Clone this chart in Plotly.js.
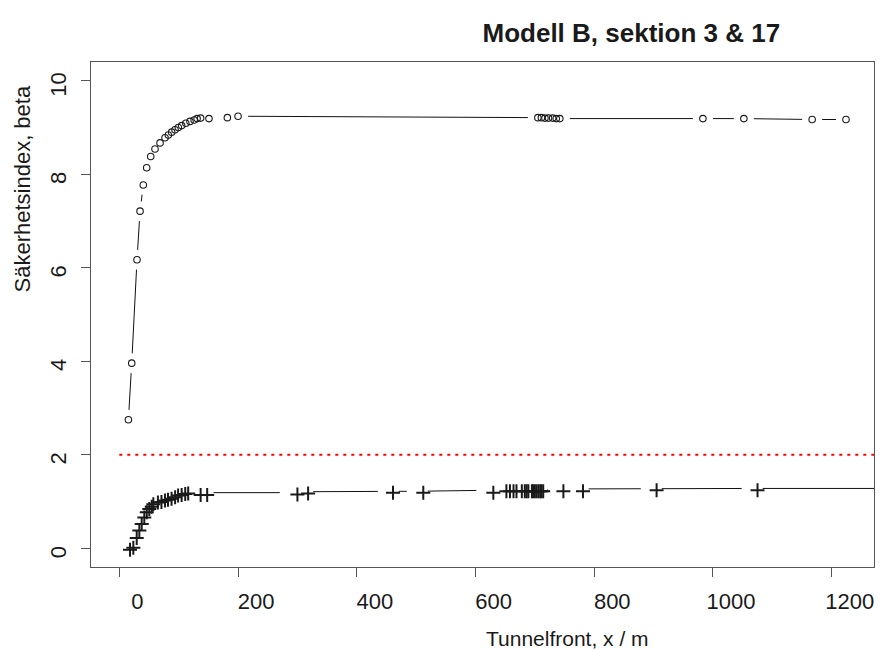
<!DOCTYPE html>
<html>
<head>
<meta charset="utf-8">
<script src="https://cdn.plot.ly/plotly-3.0.1.min.js"></script>
<style>html,body{margin:0;padding:0;background:#fff}#chart{width:887px;height:650px}</style>
</head>
<body>
<div id="chart"></div>
<script>
// Series "o" (circles)
var circX = [15.3, 20.9, 29.8, 34.9, 40.4, 46.1, 52.9, 60.1, 68.6, 77.0, 82.6, 88.2, 93.8, 99.4, 105, 112, 119, 126, 131, 137, 151, 182, 200, 705, 711, 717, 723, 730, 736, 742, 983, 1052, 1167, 1224];
var circY = [2.75, 3.96, 6.17, 7.21, 7.77, 8.14, 8.38, 8.54, 8.67, 8.78, 8.84, 8.90, 8.95, 9.00, 9.04, 9.09, 9.13, 9.16, 9.19, 9.20, 9.19, 9.21, 9.24, 9.21, 9.21, 9.20, 9.20, 9.20, 9.19, 9.19, 9.19, 9.19, 9.17, 9.17];

// Series "+" (markers)
var plusX = [18, 23.6, 29.3, 33.7, 37.7, 42.1, 46.2, 50.5, 54.6, 57.3, 65, 71, 77, 82, 88, 94, 99, 105, 111, 116, 137, 148, 300, 318, 461, 512, 630, 652, 658, 664, 669, 678, 683, 686, 689, 695, 697, 700, 703, 706, 709, 711, 714, 748, 781, 905, 1075];
var plusY = [-0.03, 0.01, 0.22, 0.38, 0.52, 0.66, 0.77, 0.84, 0.89, 0.94, 0.98, 0.99, 1.02, 1.04, 1.06, 1.09, 1.13, 1.14, 1.16, 1.17, 1.14, 1.14, 1.15, 1.17, 1.19, 1.19, 1.19, 1.22, 1.22, 1.22, 1.22, 1.22, 1.22, 1.22, 1.22, 1.22, 1.22, 1.22, 1.22, 1.22, 1.22, 1.22, 1.22, 1.22, 1.22, 1.24, 1.24];

// Connecting line of the "+" series (its vertices, as seen in the picture)
var plusLineX = [10, 15.6, 21.3, 25.7, 29.7, 34.1, 38.2, 42.5, 46.6, 49.3, 57, 63, 69, 74, 80, 86, 91, 97, 103, 108, 129, 141, 288, 309, 453, 502, 619, 641, 660, 680, 703, 739, 773, 896, 1066, 1330];
var plusLineY = [0.02, 0.06, 0.27, 0.43, 0.57, 0.71, 0.82, 0.89, 0.94, 0.99, 1.03, 1.04, 1.07, 1.09, 1.11, 1.14, 1.17, 1.18, 1.19, 1.19, 1.19, 1.19, 1.19, 1.21, 1.21, 1.22, 1.24, 1.25, 1.25, 1.25, 1.25, 1.26, 1.27, 1.28, 1.28, 1.28];

// Reference level
var refX = [0, 1330];
var refY = [2, 2];

var xTicks = [0, 200, 400, 600, 800, 1000, 1200];
var yTicks = [0, 2, 4, 6, 8, 10];

var titleText = "Modell B, sektion 3 &amp; 17";
var xTitle = "Tunnelfront, x / m";
var yTitle = "Säkerhetsindex, beta";

var FONT = "Liberation Sans, Arial, Helvetica, sans-serif";

var traces = [
  // red dotted reference
  {x: refX, y: refY, mode: "lines", line: {color: "#ff0000", width: 2, dash: "3px,5px"}, hoverinfo: "skip"},
  // circle series: line, gaps, markers (type "b")
  {x: circX, y: circY, mode: "lines", line: {color: "#111", width: 1}, hoverinfo: "skip"},
  {x: circX, y: circY, mode: "markers", marker: {symbol: "circle", size: 20, color: "#fff", line: {width: 0}}, hoverinfo: "skip"},
  {x: circX, y: circY, mode: "markers", marker: {symbol: "circle-open", size: 6.5, color: "#1a1a1a", line: {width: 1.1, color: "#1a1a1a"}}},
  // plus series: line, gaps, markers
  {x: plusLineX, y: plusLineY, mode: "lines", line: {color: "#111", width: 1}, hoverinfo: "skip"},
  {x: plusLineX, y: plusLineY, mode: "markers", marker: {symbol: "circle", size: 21, color: "#fff", line: {width: 0}}, hoverinfo: "skip"},
  {x: plusX, y: plusY, mode: "markers", marker: {symbol: "cross-thin-open", size: 10, color: "#1a1a1a", line: {width: 2, color: "#1a1a1a"}}}
];

var axisCommon = {
  showgrid: false, zeroline: false,
  showline: true, mirror: true, linecolor: "#555", linewidth: 1,
  ticks: "outside", ticklen: 9, tickcolor: "#555", tickwidth: 1,
  tickfont: {family: FONT, size: 22, color: "#1a1a1a"}
};

var layout = {
  width: 887, height: 650,
  margin: {l: 91, r: 13, t: 62, b: 83},
  paper_bgcolor: "#fff", plot_bgcolor: "#fff",
  showlegend: false,
  font: {family: FONT, color: "#1a1a1a"},
  title: {text: "<b>" + titleText + "</b>", font: {family: FONT, size: 26, color: "#1a1a1a"},
          xref: "paper", x: 0.5, xanchor: "left", yref: "container", y: 1 - 33/650, yanchor: "middle"},
  xaxis: Object.assign({}, axisCommon, {range: [-47.7, 1271.2], tickmode: "array", tickvals: xTicks, ticktext: xTicks.map(String), ticklabelshift: 18, ticklabelstandoff: 6}),
  yaxis: Object.assign({}, axisCommon, {range: [-0.4, 10.4], tickmode: "array", tickvals: yTicks, ticktext: yTicks.map(String), tickangle: -90, ticklabelshift: 7, ticklabelstandoff: 6}),
  annotations: [
    {text: xTitle, xref: "paper", yref: "paper", x: (484 - 91) / 783, y: (567 - 638) / 505, xanchor: "left", yanchor: "middle", showarrow: false, font: {family: FONT, size: 21, color: "#1a1a1a"}},
    {text: yTitle, xref: "paper", yref: "paper", x: (22 - 91) / 783, y: (567 - 295) / 505, xanchor: "center", yanchor: "bottom", textangle: -90, showarrow: false, font: {family: FONT, size: 22, color: "#1a1a1a"}}
  ]
};

Plotly.newPlot("chart", traces, layout, {displayModeBar: false, staticPlot: true});
</script>
</body>
</html>
